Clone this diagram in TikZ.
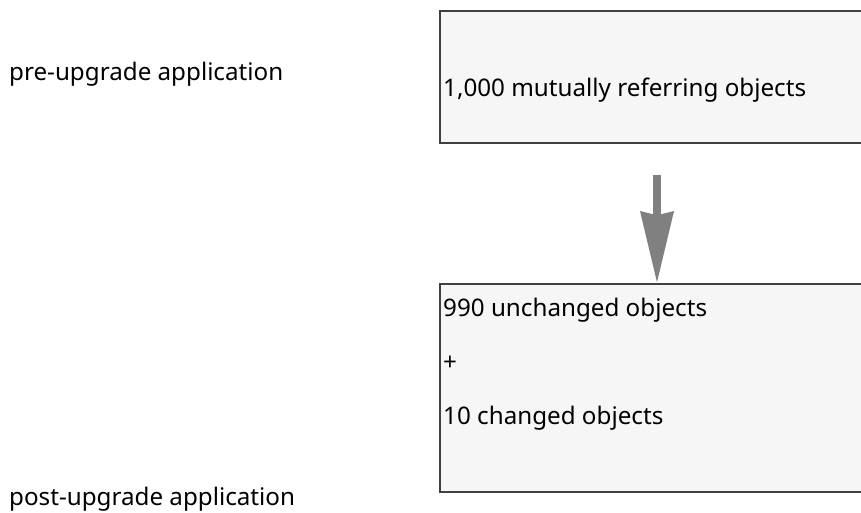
\documentclass[tikz,border=0pt]{standalone}
\usepackage{fontspec}
\setmainfont{Noto Sans}
\usetikzlibrary{arrows.meta,positioning}

\tikzset{
  objbox/.style={draw=black!75, line width=1.5pt, fill=black!3.5, minimum width=434pt, minimum height=#1, inner sep=0pt},
  lbl/.style={anchor=west, inner sep=0pt, font=\fontsize{24.2}{29}\selectfont},
}

\begin{document}
\begin{tikzpicture}[x=1pt, y=1pt]
\useasboundingbox (0, 0) rectangle (861, 513);
\node (old) at (657, 436) [objbox=132pt] {};
\node (new) at (657, 125) [objbox=208pt] {};
\node (oldtxt) at (443, 423) [lbl] {1,000 mutually referring objects};
\node (newtxt) at (443, 149) [lbl, align=left] {990 unchanged objects\\[25pt]+\\[25pt]10 changed objects};
\node (pre) at (9, 439) [lbl] {pre-upgrade application};
\node (post) at (9, 14) [lbl] {post-upgrade application};
\draw[-{Stealth[length=71pt, width=32pt, inset=3pt]}, line width=8pt, black!50, shorten <=31pt] (old) -- (new);
\end{tikzpicture}
\end{document}
